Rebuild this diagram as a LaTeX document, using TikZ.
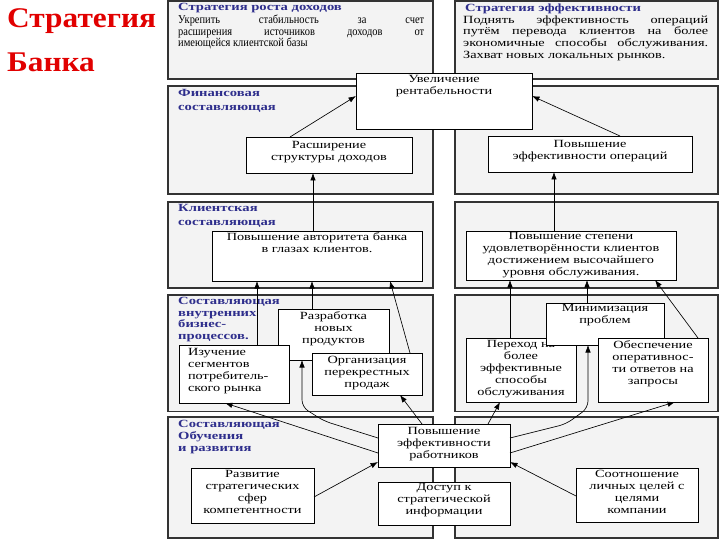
\documentclass[tikz,border=0pt]{standalone}
\usepackage{fontspec}
\setmainfont{Liberation Serif}
\newfontfamily\boxfnt[FakeStretch=1.3]{Liberation Serif}
\newfontfamily\titlefnt[FakeStretch=1.33]{Liberation Serif}
\newfontfamily\leftfnt[FakeStretch=0.87]{Liberation Serif}
\newfontfamily\redfnt[FakeStretch=1.1]{Liberation Serif}
\usetikzlibrary{arrows.meta}
\definecolor{ttlblue}{RGB}{46,46,140}
\definecolor{titlered}{RGB}{225,0,0}
\definecolor{panelfill}{RGB}{243,243,243}
\tikzset{
  panel/.style={draw=black!80, line width=1.3pt, fill=panelfill},
  box/.style={draw=black, line width=0.8pt, fill=white, inner sep=0pt, outer sep=0pt},
  arr/.style={draw=black, line width=0.65pt, rounded corners=7pt, -{Latex[length=7.5pt,width=5.5pt]}},
  ttl/.style={inner sep=0pt, anchor=north west, align=left, text=ttlblue,
    font={\titlefnt\bfseries\fontsize{11}{#1}\selectfont}},
  ttl/.default=12,
  body/.style={inner sep=0pt, anchor=north west, align=justify},
  redttl/.style={inner sep=0pt, anchor=base west, text=titlered,
    font={\redfnt\bfseries\fontsize{28.5}{30}\selectfont}}
}
% #1 name, #2 x1, #3 y1, #4 x2, #5 y2, #6 top pad, #7 alignment, #8 text
\newcommand\bx[8]{%
  \pgfmathsetmacro\bw{#4-#2}\pgfmathsetmacro\bh{#5-#3}%
  \node[box, anchor=north west] (#1) at (#2,#3)
    {\begin{minipage}[c][\bh pt][t]{\bw pt}#7\boxfnt\fontsize{11}{12}\selectfont
      \vspace*{#6pt}\strut #8\end{minipage}};}
\begin{document}
\begin{tikzpicture}[x=1pt,y=-1pt]
\useasboundingbox (0,0) rectangle (720,540);
% panels
\foreach \ya/\yb in {1/79, 86/194, 202/288, 295/411.5, 417/538}{
  \draw[panel] (168,\ya) rectangle (433,\yb);
  \draw[panel] (455,\ya) rectangle (718,\yb);
}
% red title
\node[redttl] (r1) at (7,28) {Стратегия};
\node[redttl] (r2) at (7,72) {Банка};
% strategy texts
\node[ttl] (t1) at (178,3.5) {Стратегия роста доходов};
\node[body, text width=246pt, font={\leftfnt\fontsize{12}{11.6}\selectfont}] (b1) at (178,15)
  {Укрепить стабильность за счет\linebreak расширения источников доходов от\linebreak имеющейся клиентской базы};
\node[ttl] (t2) at (465,3.5) {Стратегия эффективности};
\node[body, text width=245pt, font={\boxfnt\fontsize{11}{11.6}\selectfont}] (b2) at (463,15.5)
  {Поднять эффективность операций\linebreak путём перевода клиентов на более\linebreak экономичные способы обслуживания.\linebreak Захват новых локальных рынков.};
% section titles
\node[ttl=13.3] (s1) at (178,89.5) {Финансовая\\составляющая};
\node[ttl=13.3] (s2) at (178,204.5) {Клиентская\\составляющая};
\node[ttl=11.4] (s3) at (178,297.5) {Составляющая\\внутренних\\бизнес-\\процессов.};
\node[ttl=12] (s4) at (178,420.5) {Составляющая\\Обучения\\и развития};
% boxes
\bx{uv}{356}{73}{532}{129}{1.5}{\centering}{Увеличение\\рентабельности}
\bx{ras}{246}{137}{412}{173}{3.5}{\centering}{Расширение\\структуры доходов}
\bx{eff}{488}{136}{692}{172}{3.5}{\centering}{Повышение\\эффективности операций}
\bx{avt}{212}{231}{422}{281}{1.5}{\centering}{Повышение авторитета банка\\в глазах клиентов.}
\bx{udv}{466}{231}{676}{280}{0.5}{\centering}{Повышение степени\\удовлетворённости клиентов\\достижением высочайшего\\уровня обслуживания.}
\bx{razr}{278}{309}{389}{360}{2.5}{\centering}{Разработка\\новых\\продуктов}
\bx{izu}{179}{345}{289}{403}{2.5}{\raggedright\leftskip=9pt\relax}{Изучение\\сегментов\\потребитель-\\ского рынка}
\bx{org}{312}{353}{422}{395}{2.5}{\centering}{Организация\\перекрестных\\продаж}
\bx{per}{466}{338}{576}{402}{1.5}{\centering}{Переход на\\более\\эффективные\\способы\\обслуживания}
\bx{mnz}{546}{303}{664}{345}{0.5}{\centering}{Минимизация\\проблем}
\bx{obe}{598}{338}{708}{402}{2.5}{\centering}{Обеспечение\\оперативнос-\\ти ответов на\\запросы}
\bx{rab}{378}{424}{510}{467}{2.5}{\centering}{Повышение\\эффективности\\работников}
\bx{dos}{378}{482}{510}{525}{0.5}{\centering}{Доступ к\\стратегической\\информации}
\bx{rsv}{191}{468}{314}{523}{1.5}{\centering}{Развитие\\стратегических\\сфер\\компетентности}
\bx{sot}{576}{468}{698}{522}{1.5}{\centering}{Соотношение\\личных целей с\\целями\\компании}
% bend points
\coordinate (k1) at (324,421);
\coordinate (k2) at (302,407);
\coordinate (k3) at (566,424);
\coordinate (k4) at (588,408);
% connectors
\draw[arr] ([xshift=-39pt]ras.north) -- ([yshift=5pt]uv.west);
\draw[arr] ([xshift=30pt]eff.north) -- ([yshift=5pt]uv.east);
\draw[arr] ([xshift=-4pt]avt.north) -- ([xshift=-16pt]ras.south);
\draw[arr] ([xshift=-17pt]udv.north) -- ([xshift=-36pt]eff.south);
\draw[arr] ([xshift=23pt]izu.north) -- ([xshift=-60pt]avt.south);
\draw[arr] ([xshift=-21.5pt]razr.north) -- ([xshift=-5pt]avt.south);
\draw[arr] ([xshift=43pt]org.north) -- ([xshift=73pt]avt.south);
\draw[arr] ([xshift=-11pt]per.north) -- ([xshift=-61pt]udv.south);
\draw[arr] ([xshift=-18pt]mnz.north) -- ([xshift=16pt]udv.south);
\draw[arr] ([xshift=45pt]obe.north) -- ([xshift=84pt]udv.south);
\draw[arr] ([yshift=-1.5pt]rsv.east) -- ([yshift=-16.5pt]rab.west);
\draw[arr] ([yshift=-1pt]sot.west) -- ([yshift=-16.5pt]rab.east);
\draw[arr] ([yshift=-7.5pt]rab.west) -- ([xshift=-9pt]izu.south);
\draw[arr] ([yshift=7.5pt]rab.west) -- (k1) -- (k2) -- ([xshift=-31.5pt]razr.south);
\draw[arr] ([xshift=-22pt]rab.north) -- ([xshift=33pt]org.south);
\draw[arr] ([xshift=44pt]rab.north) -- ([xshift=-21pt]per.south);
\draw[arr] ([yshift=7.5pt]rab.east) -- (k3) -- (k4) -- ([xshift=-17pt]mnz.south);
\draw[arr] ([yshift=-7.5pt]rab.east) -- ([xshift=22pt]obe.south);
\end{tikzpicture}
\end{document}
